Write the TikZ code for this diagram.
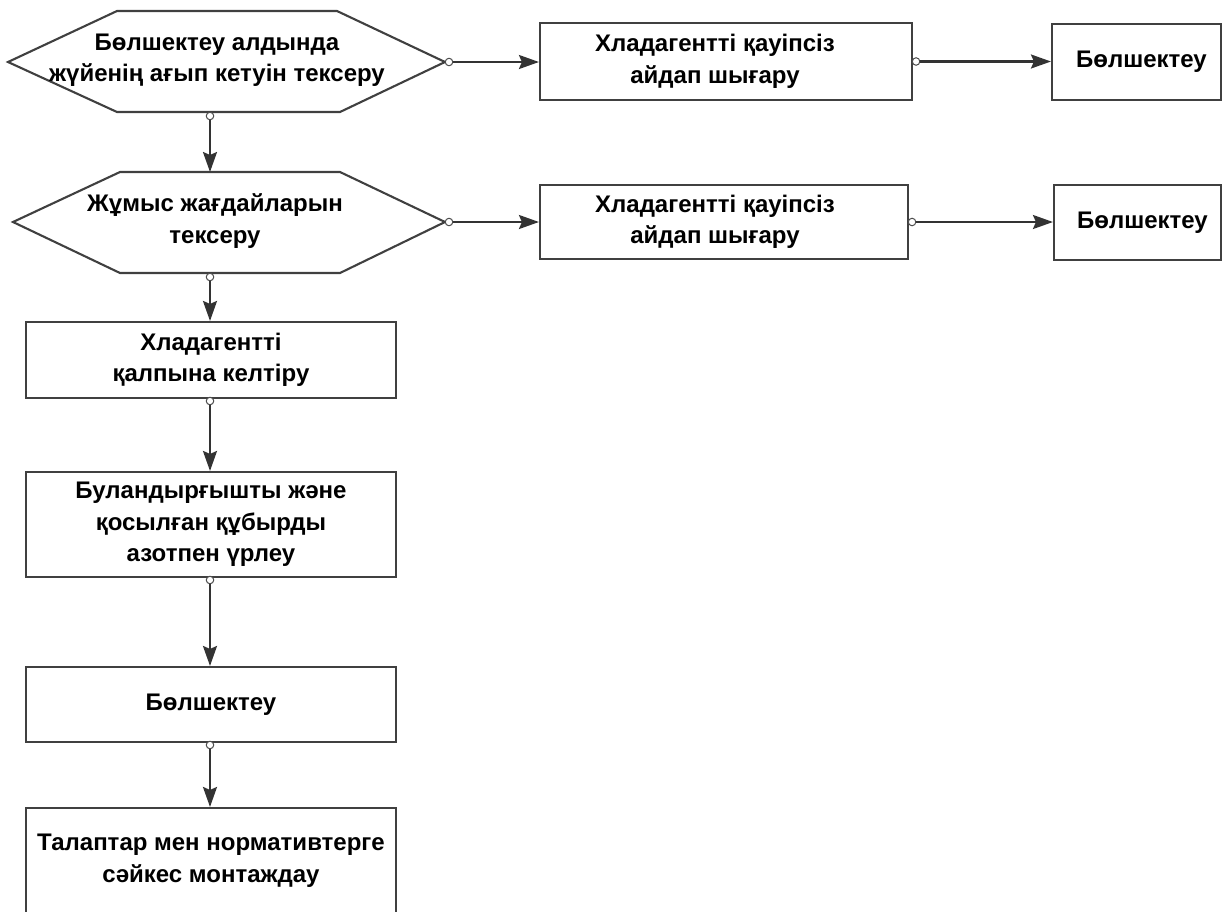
\documentclass[tikz,border=0pt]{standalone}
\usepackage{fontspec}
\setmainfont{Liberation Sans}
\usetikzlibrary{arrows.meta,calc}
\begin{document}
\begin{tikzpicture}[x=1pt,y=-1pt,
  lw/.style={line width=2.1pt, draw=black!75},
  txt/.style={inner sep=0pt, align=center, font=\bfseries\fontsize{24pt}{31.5pt}\selectfont},
  box/.style={txt, lw, rectangle},
  dot/.style={circle, draw=black!70, line width=1pt, fill=white, inner sep=0pt, minimum size=7.5pt},
  arr/.style={line width=2.1pt, draw=black!80, -{Stealth[length=20pt,width=14pt,inset=3pt]}},
]
\useasboundingbox (0,0) rectangle (1223,911);

% hexagon 1
\coordinate (h1w) at (8,62);
\coordinate (h1e) at (445,62);
\coordinate (h1s) at (210,112);
\draw[lw, line join=miter] (h1w) -- (117,11) -- (337,11) -- (h1e) -- (340,112) -- (117,112) -- cycle;
\node[txt] (h1) at (217,60) {Бөлшектеу алдында\\жүйенің ағып кетуін тексеру};

% hexagon 2
\coordinate (h2w) at (13,222);
\coordinate (h2e) at (445,222);
\coordinate (h2n) at (210,172);
\coordinate (h2s) at (210,273);
\draw[lw, line join=miter] (h2w) -- (120,172) -- (340,172) -- (h2e) -- (340,273) -- (120,273) -- cycle;
\node[txt] (h2) at (215,221) {Жұмыс жағдайларын\\тексеру};

% right boxes
\node[box, minimum width=372pt, minimum height=77pt] (r1) at (726,61.5) {Хладагентті қауіпсіз\hspace*{22pt}\\айдап шығару\hspace*{22pt}};
\node[box, minimum width=169pt, minimum height=76pt] (f1) at (1136.5,62) {\hspace*{10pt}Бөлшектеу};
\node[box, minimum width=368pt, minimum height=74pt] (r2) at (724,222) {Хладагентті қауіпсіз\hspace*{18pt}\\айдап шығару\hspace*{18pt}};
\node[box, minimum width=167pt, minimum height=75pt] (f2) at (1137.5,222.5) {\hspace*{10pt}Бөлшектеу};

% left boxes
\node[box, minimum width=370pt, minimum height=76pt] (l1) at (211,360) {Хладагентті\\қалпына келтіру};
\node[box, minimum width=370pt, minimum height=105pt] (l2) at (211,524.5) {Буландырғышты және\\қосылған құбырды\\азотпен үрлеу};
\node[box, minimum width=370pt, minimum height=75pt] (l3) at (211,704.5) {Бөлшектеу};
\node[box, minimum width=370pt, minimum height=105pt] (l4) at (211,860.5) {Талаптар мен нормативтерге\\сәйкес монтаждау};

% dots
\node[dot] (d1) at ($(h1e)+(4,0)$) {};
\node[dot] (d2) at ($(r1.east)+(3,0)$) {};
\node[dot] (d3) at ($(h2e)+(4,0)$) {};
\node[dot] (d4) at ($(r2.east)+(3,0)$) {};
\node[dot] (d5) at ($(h1s)+(0,4)$) {};
\node[dot] (d6) at ($(h2s)+(0,4)$) {};
\node[dot] (d7) at (210,401) {};
\node[dot] (d8) at (210,580) {};
\node[dot] (d9) at (210,745) {};

% connectors
\draw[arr] (d1) -- (d1 -| r1.west);
\draw[arr] (d2) -- (d2 -| f1.west);
\draw[arr] (d3) -- (d3 -| r2.west);
\draw[arr] (d4) -- (d4 -| f2.west);
\draw[arr] (d5) -- (h2n);
\draw[arr] (d6) -- (d6 |- l1.north);
\draw[arr] (d7) -- (d7 |- l2.north);
\draw[arr] (d8) -- (d8 |- l3.north);
\draw[arr] (d9) -- (d9 |- l4.north);
\end{tikzpicture}
\end{document}
